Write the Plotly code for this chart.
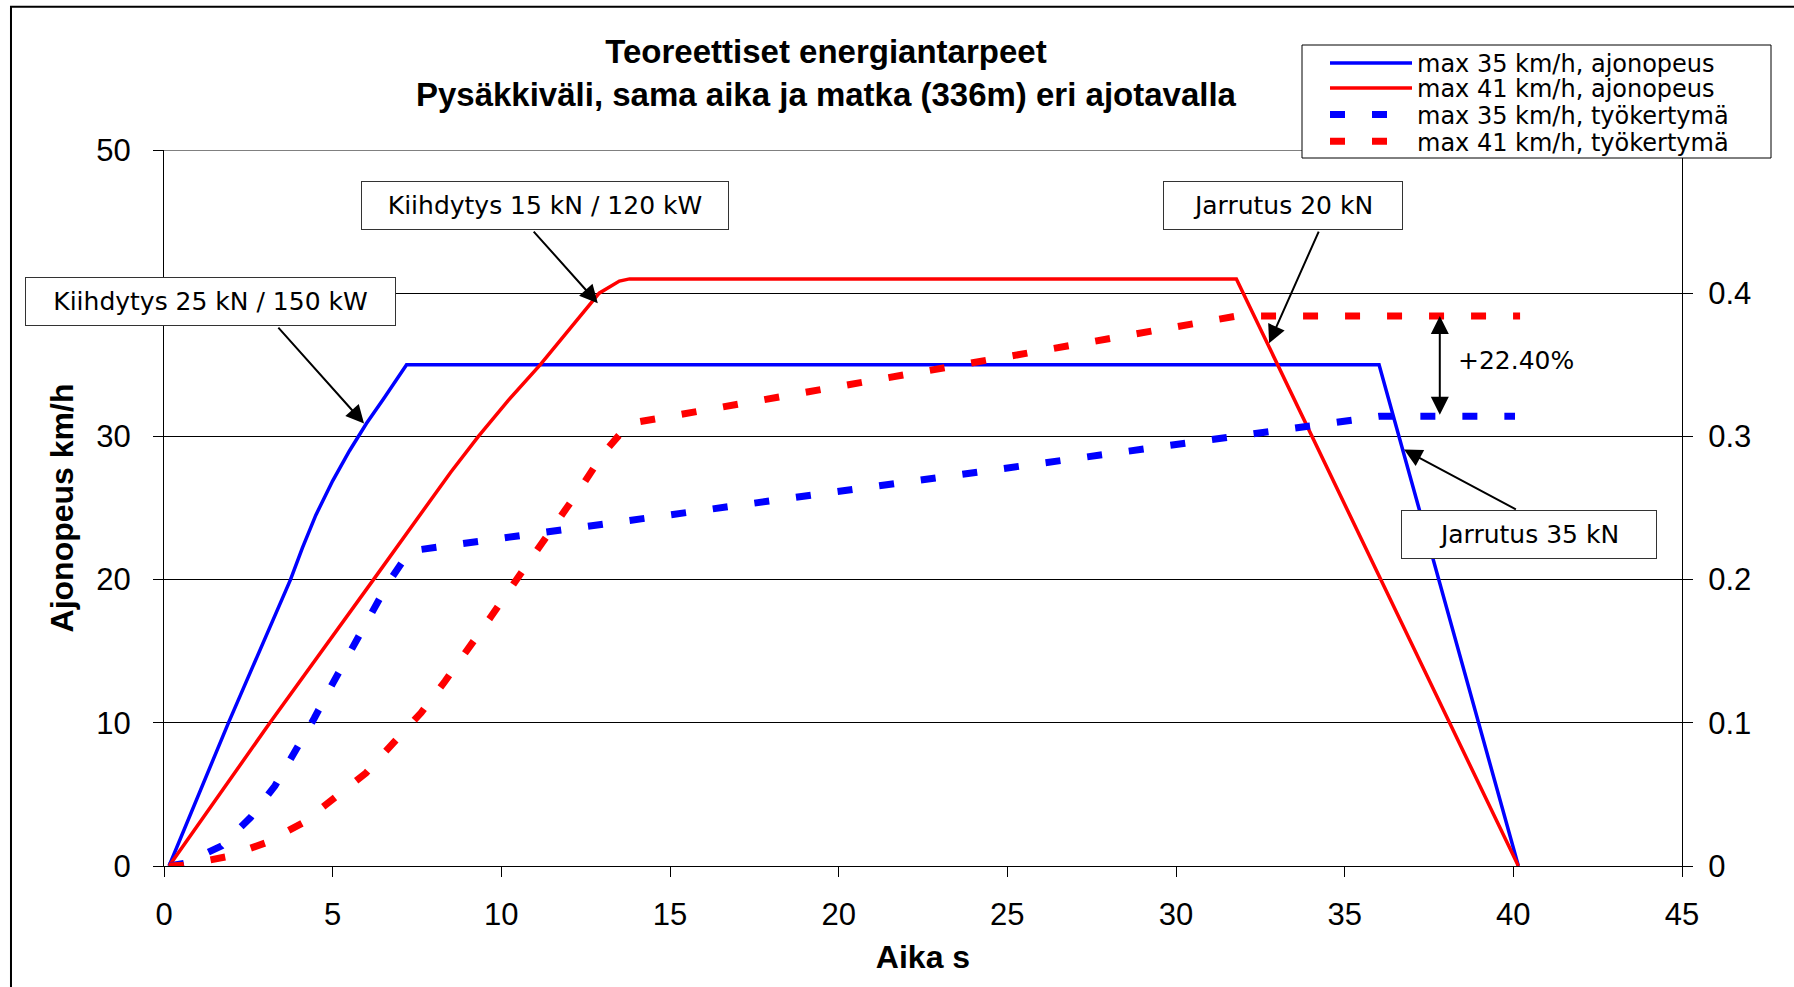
import plotly.graph_objects as go

# ---- data ----
t_speed35 = [0.15, 1.91, 3.75, 4.1, 4.5, 5.0, 5.5, 6.0, 6.5, 7.19, 36.02, 40.15]
v_speed35 = [0, 10, 20, 22.2, 24.5, 26.9, 29.0, 30.9, 32.6, 35, 35, 0]

t_speed41 = [0.15, 3.14, 6.21, 8.5, 9.32, 10.2, 11.15, 12.0, 12.9, 13.5, 13.8, 31.79, 40.15]
v_speed41 = [0, 10, 20, 27.5, 30, 32.5, 35, 37.4, 40, 40.85, 41, 41, 0]

t_work35 = [0.15, 0.62, 1.71, 2.57, 3.29, 3.88, 4.45, 4.99, 5.56, 6.13, 6.68, 7.29, 36.02, 40.05]
w_work35 = [0, 0.002, 0.014, 0.034, 0.056, 0.079, 0.103, 0.127, 0.151, 0.175, 0.199, 0.220, 0.314, 0.314]

t_work41 = [0.15, 0.57, 1.86, 2.99, 4.11, 5.02, 5.99, 6.8, 7.62, 8.33, 9.02, 9.69, 10.36,
            11.03, 11.69, 12.38, 13.02, 13.79, 31.79, 40.2]
w_work41 = [0, 0.0005, 0.0065, 0.016, 0.030, 0.047, 0.065, 0.086, 0.107, 0.129, 0.151, 0.174, 0.197,
            0.219, 0.242, 0.265, 0.288, 0.309, 0.384, 0.384]

series_names = ["max 35 km/h, ajonopeus", "max 41 km/h, ajonopeus",
                "max 35 km/h, työkertymä", "max 41 km/h, työkertymä"]

x_ticks = [0, 5, 10, 15, 20, 25, 30, 35, 40, 45]
y_ticks = [0, 10, 20, 30, 40, 50]
y_ticktext = ["0", "10", "20", "30", "", "50"]   # 40 is hidden behind a label box in the reference
y2_ticks = [0, 0.1, 0.2, 0.3, 0.4]               # 0.5 is hidden behind the legend

BLUE = "#0000FF"
RED = "#FF0000"
FONT = "Liberation Sans, Arial, sans-serif"
WIDE = "DejaVu Sans, Verdana, sans-serif"

fig = go.Figure()
fig.add_trace(go.Scatter(x=t_speed35, y=v_speed35, mode="lines", name=series_names[0],
                         line=dict(color=BLUE, width=3.5), legend="legend"))
fig.add_trace(go.Scatter(x=t_speed41, y=v_speed41, mode="lines", name=series_names[1],
                         line=dict(color=RED, width=3.5), legend="legend2"))
fig.add_trace(go.Scatter(x=t_work35, y=w_work35, mode="lines", name=series_names[2], yaxis="y2",
                         line=dict(color=BLUE, width=7, dash="15px,27px"), legend="legend3"))
fig.add_trace(go.Scatter(x=t_work41, y=w_work41, mode="lines", name=series_names[3], yaxis="y2",
                         line=dict(color=RED, width=7, dash="15px,27px"), legend="legend4"))

tickfont = dict(family=FONT, size=31, color="black")
titlefont = dict(family=FONT, size=32, color="black", weight="bold")

# plot area in figure pixels: x 164..1682, y 150..866
def px_x(v):
    return (v - 164) / 1518

def px_y(v):
    return (866 - v) / 716

legend_rows = [63.3, 88.3, 115.0, 141.7]
legend_common = dict(x=px_x(1325), xanchor="left", yanchor="middle", bgcolor="rgba(0,0,0,0)",
                     borderwidth=0, font=dict(family=WIDE, size=24, color="black"),
                     itemwidth=82, tracegroupgap=0)

fig.update_layout(
    width=1794, height=987,
    margin=dict(l=164, r=112, t=150, b=121),
    paper_bgcolor="white", plot_bgcolor="white",
    title=dict(text="Teoreettiset energiantarpeet<br>Pysäkkiväli, sama aika ja matka (336m) eri ajotavalla",
               font=dict(family=FONT, size=33, color="black", weight="bold"),
               x=0.4604, xref="container", xanchor="center",
               y=0.9359, yref="container", yanchor="middle"),
    xaxis=dict(range=[0, 45], tickvals=x_ticks, ticks="outside", ticklen=10, tickcolor="black",
               showline=True, linecolor="black", linewidth=1, showgrid=False, zeroline=False,
               tickfont=tickfont, ticklabelstandoff=11,
               title=dict(text="Aika s", font=titlefont, standoff=14)),
    yaxis=dict(range=[0, 50], tickvals=y_ticks, ticktext=y_ticktext, ticks="outside", ticklen=10,
               tickcolor="black", showline=True, linecolor="black", linewidth=1, showgrid=True,
               gridcolor="black", gridwidth=1, zeroline=False, tickfont=tickfont, ticklabelstandoff=16,
               title=dict(text="Ajonopeus km/h", font=titlefont, standoff=13)),
    yaxis2=dict(range=[0, 0.5], tickvals=y2_ticks, overlaying="y", side="right", ticks="outside",
                ticklen=10, tickcolor="black", showline=True, linecolor="black", linewidth=1,
                showgrid=False, zeroline=False, tickfont=tickfont, ticklabelstandoff=9),
    legend=dict(y=px_y(legend_rows[0]), **legend_common),
    legend2=dict(y=px_y(legend_rows[1]), **legend_common),
    legend3=dict(y=px_y(legend_rows[2]), **legend_common),
    legend4=dict(y=px_y(legend_rows[3]), **legend_common),
    showlegend=True,
)

# outer chart frame, top plot border and legend frame
fig.add_shape(type="rect", xref="paper", yref="paper", x0=-0.1008, x1=1.4, y0=-0.6, y1=1.200,
              line=dict(color="black", width=2), fillcolor="rgba(0,0,0,0)", layer="below")
fig.add_shape(type="line", xref="x", yref="y", x0=0, x1=45, y0=50, y1=50,
              line=dict(color="#808080", width=2), layer="above")
fig.add_shape(type="rect", xref="paper", yref="paper",
              x0=px_x(1302), x1=px_x(1771), y0=px_y(158), y1=px_y(45),
              line=dict(color="black", width=1), fillcolor="white", layer="above")

boxfont = dict(family=WIDE, size=25, color="black")
boxes = [
    ("Kiihdytys 25 kN / 150 kW", 1.37, 39.42, 369),
    ("Kiihdytys 15 kN / 120 kW", 11.29, 46.12, 366),
    ("Jarrutus 20 kN", 33.16, 46.12, 238),
    ("Jarrutus 35 kN", 40.46, 23.16, 254),
]
for txt, bx, by, bw in boxes:
    fig.add_annotation(text=txt, x=bx, y=by, xref="x", yref="y", showarrow=False,
                       width=bw, height=47, borderpad=0, bordercolor="#333333", borderwidth=1,
                       bgcolor="white", font=boxfont, align="center", valign="middle")

arrows = [
    (5.93, 30.9, 3.35, 37.7),
    (12.86, 39.3, 10.92, 44.41),
    (32.76, 36.51, 34.25, 44.41),
    (36.76, 29.08, 40.12, 24.85),
]
for hx, hy, tx, ty in arrows:
    fig.add_annotation(text="", x=hx, y=hy, ax=tx, ay=ty, xref="x", yref="y", axref="x", ayref="y",
                       showarrow=True, arrowhead=2, arrowsize=1.8, arrowwidth=2, arrowcolor="black")

fig.add_annotation(text="", x=37.82, y=38.4, ax=37.82, ay=31.4, xref="x", yref="y", axref="x", ayref="y",
                   showarrow=True, arrowhead=2, arrowsize=1.8, arrowwidth=2, arrowcolor="black",
                   arrowside="end+start")
fig.add_annotation(text="+22.40%", x=40.09, y=35.3, xref="x", yref="y", showarrow=False, font=boxfont)

fig.write_html("out.html", config={"displayModeBar": False},
               post_script="document.body.style.margin='0';document.body.style.overflow='hidden';")
